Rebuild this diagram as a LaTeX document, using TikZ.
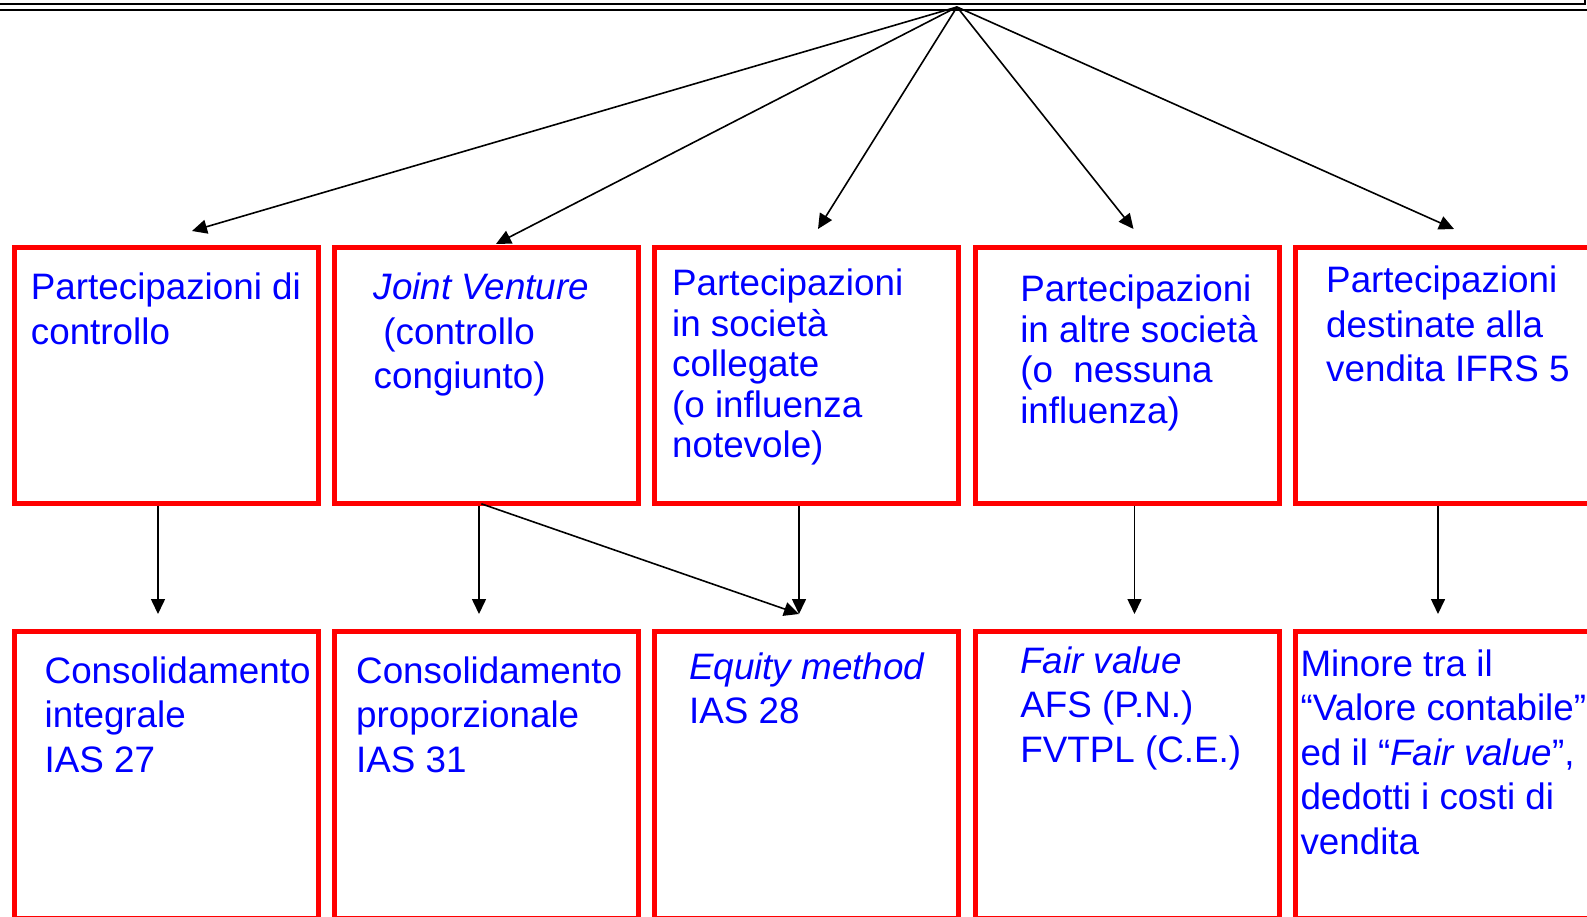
\documentclass[tikz,border=0pt]{standalone}
\usepackage{fontspec}
\setmainfont{Liberation Sans}
\usetikzlibrary{positioning,arrows.meta}
\tikzset{
  box/.style={draw=red,line width=5pt,minimum width=304pt,minimum height=255.5pt,
    inner sep=0pt,outer sep=0pt},
  lowbox/.style={box,minimum height=287pt},
  % base of a node with several lines = baseline of its last line
  txt/.style={text=blue,align=left,anchor=base west,inner sep=0pt,
    font=\fontsize{36.8}{44.5}\selectfont},
  tight/.style={font=\fontsize{36.8}{40.5}\selectfont},
  link/.style={line width=1.6pt,->}
}
\begin{document}
\begin{tikzpicture}[x=1pt,y=-1pt,>={Triangle[length=15pt,width=14pt]}]
  \useasboundingbox (0,0) rectangle (1587,917);
  % rule on top
  \draw[line width=1.8pt] (0,4) -- (1585,4) -- (1585,-2);
  \draw[line width=2pt] (0,10) -- (1587,10);
  \coordinate (apex) at (957,7);
  % upper row
  \node[box,anchor=north west] (pc) at (14.5,247.5) {};
  \node[box,right=16.2pt of pc] (jv) {};
  \node[box,right=16.2pt of jv] (coll) {};
  \node[box,right=16.2pt of coll] (altre) {};
  \node[box,right=16.2pt of altre] (ifrs) {};
  % lower row
  \node[lowbox,below=128pt of pc] (cons) {};
  \node[lowbox,right=16.2pt of cons] (prop) {};
  \node[lowbox,right=16.2pt of prop] (eqm) {};
  \node[lowbox,right=16.2pt of eqm] (fv) {};
  \node[lowbox,right=16.2pt of fv] (minore) {};
  % texts
  \node[txt] (pc-t) at ([shift={(16.2,96.5)}]pc.north west)
    {Partecipazioni di\\controllo};
  \node[txt] (jv-t) at ([shift={(38.8,141)}]jv.north west)
    {\textit{Joint Venture}\\\hspace*{9.7pt}(controllo\\congiunto)};
  \node[txt,tight] (coll-t) at ([shift={(17,210)}]coll.north west)
    {Partecipazioni\\in società\\collegate\\(o influenza\\notevole)};
  \node[txt,tight] (altre-t) at ([shift={(45,175.5)}]altre.north west)
    {Partecipazioni\\in altre società\\(o\ \ nessuna\\influenza)};
  \node[txt] (ifrs-t) at ([shift={(30.7,134)}]ifrs.north west)
    {Partecipazioni\\destinate alla\\vendita IFRS 5};
  \node[txt] (cons-t) at ([shift={(30,141)}]cons.north west)
    {Consolidamento\\integrale\\IAS 27};
  \node[txt] (prop-t) at ([shift={(21.3,141)}]prop.north west)
    {Consolidamento\\proporzionale\\IAS 31};
  \node[txt] (eqm-t) at ([shift={(34,92.5)}]eqm.north west)
    {\textit{Equity method}\\IAS 28};
  \node[txt] (fv-t) at ([shift={(45,131)}]fv.north west)
    {\textit{Fair value}\\AFS (P.N.)\\FVTPL (C.E.)};
  \node[txt] (minore-t) at ([shift={(5,223)}]minore.north west)
    {Minore tra il\\“Valore contabile”\\ed il “\textit{Fair value}”,\\dedotti i costi di\\vendita};
  % arrow ends
  \coordinate (a1) at (192,231);
  \coordinate (a2) at (496,244);
  \coordinate (a3) at (818,229);
  \coordinate (a4) at (1133.5,229);
  \coordinate (a5) at (1454,229);
  \coordinate (b1) at (158,614);
  \coordinate (b2) at (479,614);
  \coordinate (b3) at (799,614);
  \coordinate (b4) at (1134.5,614);
  \coordinate (b5) at (1438,614);
  \foreach \i in {1,...,5}
    \draw[link] (apex) -- (a\i);
  \draw[link,shorten <=2.5pt] (pc.south -| b1) -- (b1);
  \draw[link,shorten <=2.5pt] (jv.south -| b2) -- (b2);
  \draw[link,shorten <=2.5pt] (jv.south -| b2) -- (b3);
  \draw[link,shorten <=2.5pt] (coll.south -| b3) -- (b3);
  \draw[link,shorten <=2.5pt] (altre.south -| b4) -- (b4);
  \draw[link,shorten <=2.5pt] (ifrs.south -| b5) -- (b5);
\end{tikzpicture}
\end{document}
